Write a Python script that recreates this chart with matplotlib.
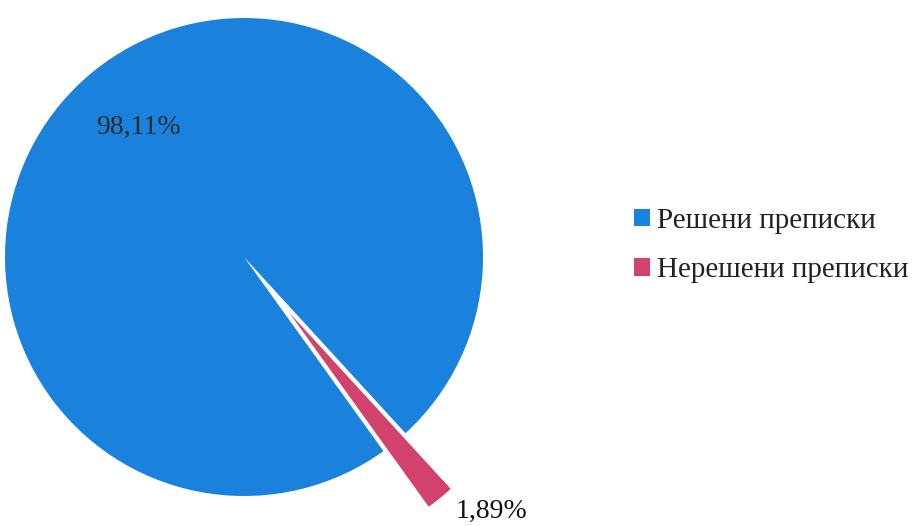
import matplotlib
matplotlib.use('Agg')
import matplotlib.pyplot as plt
import numpy as np

# data
labels = ['Решени преписки', 'Нерешени преписки']
values = [98.11, 1.89]
pct_text = ['98,11%', '1,89%']
colors = ['#1a82dc', '#d2426c']

W, H = 914, 526
fig = plt.figure(figsize=(W / 100, H / 100), dpi=100)
plt.rcParams['font.family'] = ['Liberation Serif', 'DejaVu Serif']

# pie centre and radius in pixels
cx, cy, R = 244, 257, 239
half = 320
ax = fig.add_axes([(cx - half) / W, (H - cy - half) / H, 2 * half / W, 2 * half / H])
lim = half / R
ax.set_aspect('equal')
ax.axis('off')

wedges, _ = ax.pie(values, colors=colors, explode=[0, 0.3], startangle=-47.5,
                   counterclock=True, radius=1, center=(0, 0),
                   wedgeprops=dict(linewidth=0, edgecolor='none'), frame=False)
ax.set_xlim(-lim, lim)
ax.set_ylim(-lim, lim)

# labels along each wedge's mid angle (small sideways nudge for the outer one)
dists = [0.7, 1.07]
nudge = [0, 0.17]
tcols = ['#2b2b2b', '#111111']
for w, txt, d, nx, tc in zip(wedges, pct_text, dists, nudge, tcols):
    mid = np.deg2rad((w.theta1 + w.theta2) / 2)
    ox, oy = w.center
    ax.text(ox + d * np.cos(mid) + nx, oy + d * np.sin(mid), txt,
            ha='center', va='center', fontsize=20, color=tc)

leg = fig.legend(wedges, labels, loc='upper left',
                 bbox_to_anchor=(634 / W, 1 - 208 / H), frameon=False,
                 fontsize=21, handlelength=0.55, handleheight=0.55,
                 handletextpad=0.25, labelspacing=0.8, borderpad=0, borderaxespad=0)
for t in leg.get_texts():
    t.set_color('#222222')

fig.savefig('out.png', dpi=100)
